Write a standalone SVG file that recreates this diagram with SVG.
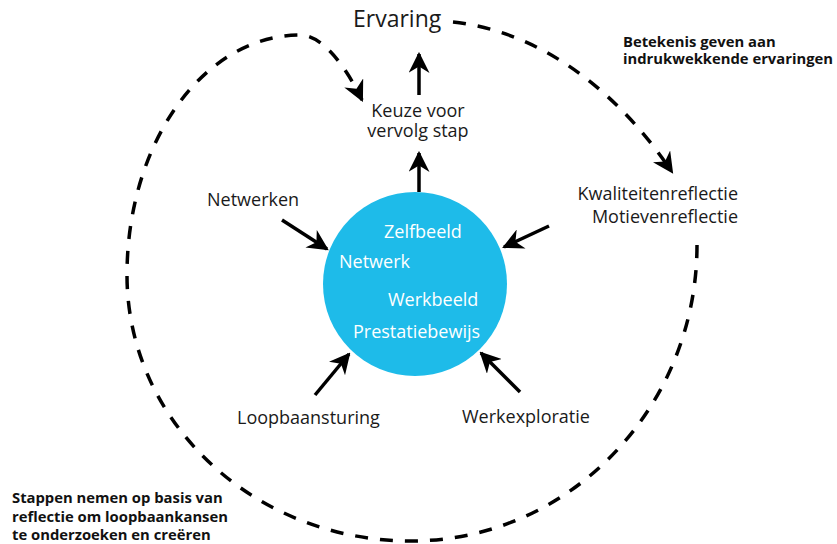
<svg xmlns="http://www.w3.org/2000/svg" width="837" height="544" viewBox="0 0 837 544">
<defs>
<style>
.lbl{font-family:"Open Sans","Liberation Sans",sans-serif;font-size:18px;fill:#1a1a1a}
.in{font-family:"Open Sans","Liberation Sans",sans-serif;font-size:18px;fill:#ffffff}
.note{font-family:"Open Sans","Liberation Sans",sans-serif;font-size:14.8px;font-weight:bold;fill:#111}
.arr{stroke:#000;stroke-width:3.5;fill:none;marker-end:url(#ah)}
.dash{stroke:#000;stroke-width:3.5;fill:none;stroke-dasharray:13 12;marker-end:url(#ah)}
</style>
<marker id="ah" viewBox="0 0 10 10" refX="9" refY="5" markerWidth="6" markerHeight="6" orient="auto" markerUnits="strokeWidth">
<path d="M0,0 L10,5 L0,10 L3,5 z" fill="#000"/>
</marker>
</defs>
<rect width="837" height="544" fill="#fff"/>
<g id="connectors">
<path class="dash" d="M453,22 C530,30 610,80 672,172"/>
<path class="dash" d="M697,245 C697,408 569,541 411,541 C254,541 127,422 127,275 C127,142 204,35 300,35 C322,35 345,65 362,100"/>
<line class="arr" x1="419" y1="192" x2="419" y2="153"/>
<line class="arr" x1="419" y1="95" x2="419" y2="54"/>
<line class="arr" x1="282" y1="220" x2="327" y2="249"/>
<line class="arr" x1="549" y1="226" x2="504" y2="247"/>
<line class="arr" x1="315" y1="395" x2="349" y2="354"/>
<line class="arr" x1="520" y1="392" x2="481" y2="353"/>
</g>
<g id="core">
<circle cx="415" cy="284" r="92" fill="#1ebbe9"/>
<text class="in" x="384" y="238">Zelfbeeld</text>
<text class="in" x="339" y="268">Netwerk</text>
<text class="in" x="388" y="306">Werkbeeld</text>
<text class="in" x="353" y="338">Prestatiebewijs</text>
</g>
<g id="ervaring"><text class="lbl" x="353" y="27" style="font-size:23px">Ervaring</text></g>
<g id="keuze">
<text class="lbl" text-anchor="middle"><tspan x="418" y="117">Keuze voor</tspan><tspan x="418" y="137">vervolg stap</tspan></text>
</g>
<g id="netwerken"><text class="lbl" x="207" y="206">Netwerken</text></g>
<g id="reflectie">
<text class="lbl" text-anchor="end"><tspan x="738" y="200">Kwaliteitenreflectie</tspan><tspan x="738" y="223">Motievenreflectie</tspan></text>
</g>
<g id="loopbaansturing"><text class="lbl" x="237" y="424">Loopbaansturing</text></g>
<g id="werkexploratie"><text class="lbl" x="462" y="423">Werkexploratie</text></g>
<g id="note-top">
<text class="note"><tspan x="623" y="47">Betekenis geven aan</tspan><tspan x="623" y="64">indrukwekkende ervaringen</tspan></text>
</g>
<g id="note-bottom">
<text class="note"><tspan x="12" y="503">Stappen nemen op basis van</tspan><tspan x="12" y="522">reflectie om loopbaankansen</tspan><tspan x="12" y="540">te onderzoeken en creëren</tspan></text>
</g>
</svg>
